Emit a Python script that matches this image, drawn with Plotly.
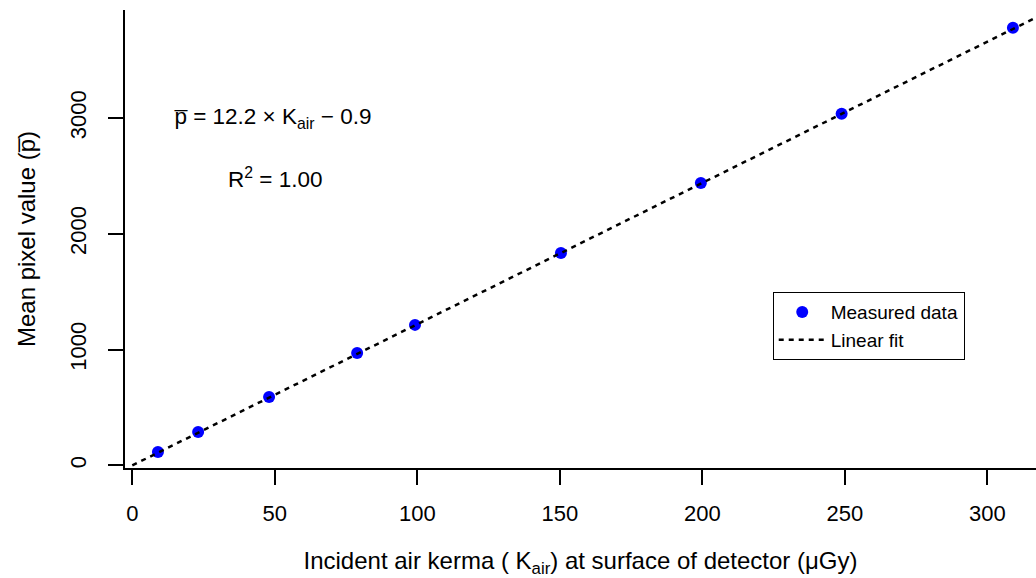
import plotly.graph_objects as go

kerma = [9.0, 23.1, 48.0, 78.9, 99.2, 150.4, 199.5, 248.9, 309.0]
pixel = [115, 288, 590, 970, 1213, 1834, 2439, 3036, 3780]

# Linear fit parameters (as printed on the chart)
slope = 12.2
intercept = -0.9
fit_x = [0, 320]
fit_y = [slope * x + intercept for x in fit_x]

x_ticks = [0, 50, 100, 150, 200, 250, 300]
y_ticks = [0, 1000, 2000, 3000]

FONT = "Liberation Sans, Arial, sans-serif"

fig = go.Figure()
fig.add_trace(go.Scatter(
    x=kerma, y=pixel, mode="markers", name="Measured data",
    marker=dict(color="#0000ff", size=12, line=dict(width=0)),
))
fig.add_trace(go.Scatter(
    x=fit_x, y=fit_y, mode="lines", name="Linear fit",
    line=dict(color="black", width=2.5, dash="5px,5px"),
))

fig.add_annotation(
    xref="x", yref="y", x=14.0, y=3000, xanchor="left", yanchor="middle",
    text="p\u0305 = 12.2 \u00d7 K<sub>air</sub> \u2212 0.9",
    showarrow=False, font=dict(family=FONT, size=22.5, color="black"),
)
fig.add_annotation(
    xref="x", yref="y", x=32.8, y=2480, xanchor="left", yanchor="middle",
    text="R<sup>2</sup> = 1.00",
    showarrow=False, font=dict(family=FONT, size=22.5, color="black"),
)

fig.update_layout(
    width=1036, height=578,
    margin=dict(l=125, r=0, t=10, b=110),
    plot_bgcolor="white", paper_bgcolor="white",
    font=dict(family=FONT, size=22, color="black"),
    showlegend=True,
    legend=dict(
        x=0.711, y=0.384, xanchor="left", yanchor="top",
        bordercolor="black", borderwidth=1,
        font=dict(family=FONT, size=19, color="black"),
        bgcolor="white", itemwidth=47, tracegroupgap=0,
    ),
    xaxis=dict(
        range=[-2.56, 317.1], tickvals=x_ticks, ticktext=[str(v) for v in x_ticks],
        showline=True, linecolor="black", linewidth=1.5, mirror=False,
        ticks="outside", ticklen=15, tickwidth=1.5, tickcolor="black",
        showgrid=False, zeroline=False,
        ticklabelstandoff=10,
        tickfont=dict(family=FONT, size=22),
        title=dict(text="Incident air kerma ( K<sub>air</sub>) at surface of detector (\u03bcGy)",
                   font=dict(family=FONT, size=24), standoff=30),
    ),
    yaxis=dict(
        range=[-23.3, 3933], tickvals=y_ticks, ticktext=[str(v) for v in y_ticks],
        showline=True, linecolor="black", linewidth=1.5, mirror=False,
        ticks="outside", ticklen=15, tickwidth=1.5, tickcolor="black",
        showgrid=False, zeroline=False, tickangle=-90,
        ticklabelstandoff=13,
        tickfont=dict(family=FONT, size=22),
        title=dict(text="Mean pixel value (p\u0305)",
                   font=dict(family=FONT, size=24), standoff=24),
    ),
)

fig.write_html("out.html")
